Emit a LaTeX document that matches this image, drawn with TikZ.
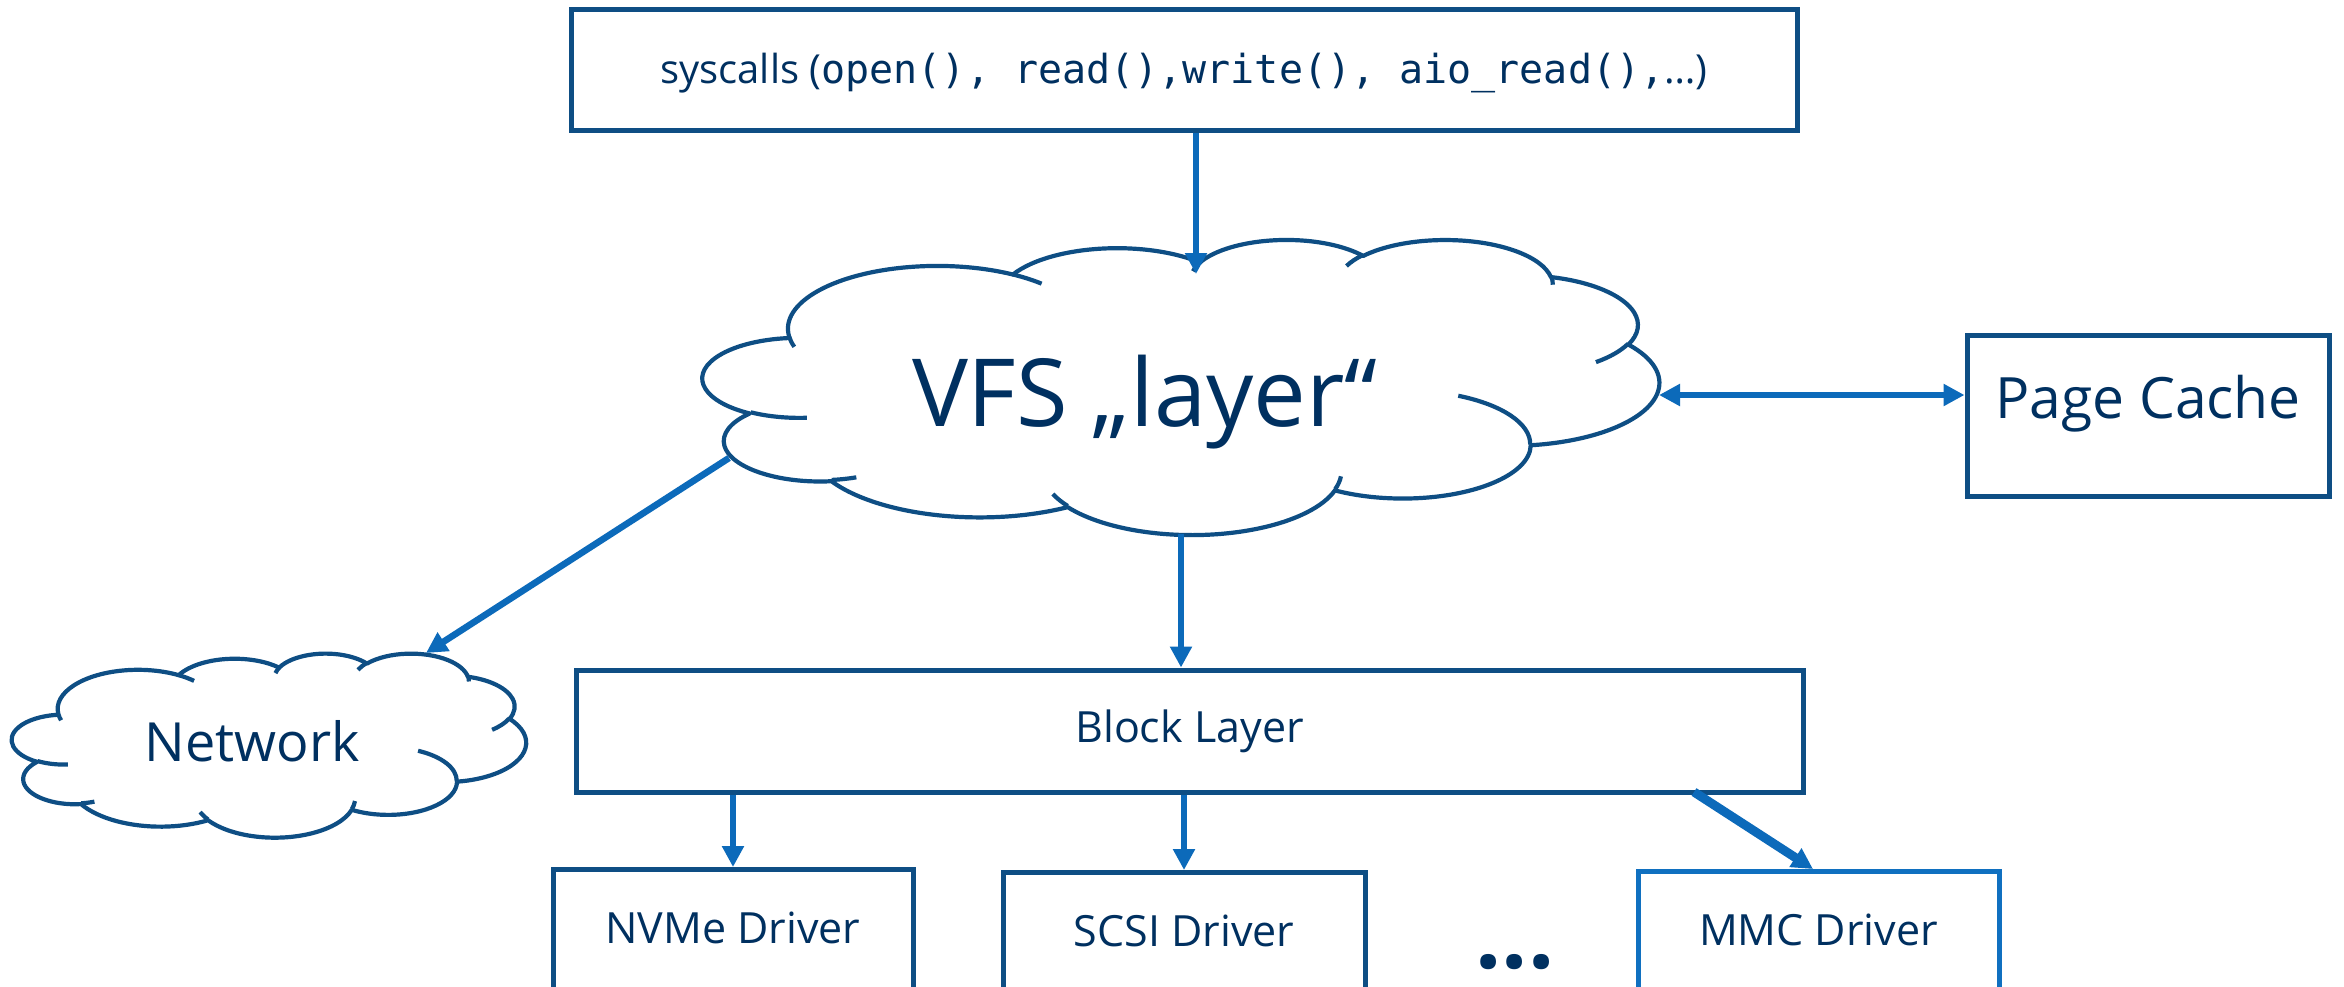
\documentclass[tikz,border=0pt]{standalone}
\usepackage{fontspec}
\setmainfont{Open Sans}
\newfontfamily\codefont{DejaVu Sans Mono}
\usetikzlibrary{arrows.meta}
\definecolor{txt}{RGB}{0,48,96}
\definecolor{bord}{RGB}{14,78,132}
\definecolor{arr}{RGB}{12,106,186}
\definecolor{mmcb}{RGB}{16,112,192}
\tikzset{
  oo/.style n args={4}{
    x radius=#1, y radius=#2,
    start angle={atan2(sin(#3)*#1,cos(#3)*#2)},
    delta angle={mod(atan2(sin(#3+#4)*#1,cos(#3+#4)*#2)-atan2(sin(#3)*#1,cos(#3)*#2)+720,360)}
  }
}
\newcommand\cloudouter{(3.900,14.370)
  arc[oo={6.753}{9.190}{-190.4875}{123.7805}]
  arc[oo={5.333}{7.267}{-144.1024}{89.9452}]
  arc[oo={4.365}{5.945}{-145.8079}{99.7230}]
  arc[oo={4.857}{6.595}{-130.9861}{117.2417}]
  arc[oo={5.333}{7.273}{-78.7089}{109.0269}]
  arc[oo={6.775}{9.220}{-46.2673}{130.2690}]
  arc[oo={5.785}{7.867}{0.6250}{114.0333}]
  arc[oo={6.752}{9.215}{22.4516}{115.1726}]
  arc[oo={7.720}{10.543}{66.2426}{75.7110}]
  arc[oo={4.360}{5.918}{-274.9421}{146.7356}]
  arc[oo={4.345}{5.945}{-246.8285}{152.5189}] -- cycle}
\newcommand\cloudinner{
  (4.693,26.177) arc[oo={4.345}{5.945}{86.7420}{26.4295}]
  (6.928,34.899) arc[oo={4.360}{5.918}{73.6105}{11.4475}]
  (16.478,39.090) arc[oo={6.752}{9.215}{137.6242}{14.0811}]
  (28.827,34.751) arc[oo={6.752}{9.215}{6.4533}{15.9984}]
  (34.129,22.954) arc[oo={5.785}{7.867}{-70.2924}{70.9174}]
  (41.798,15.354) arc[oo={5.333}{7.273}{30.3180}{27.7515}]
  (38.324,5.426) arc[oo={4.857}{6.595}{-13.7443}{14.8622}]
  (29.078,3.952) arc[oo={4.857}{6.595}{-149.1815}{18.1842}]
  (22.141,4.720) arc[oo={4.365}{5.945}{-163.4943}{17.6981}]
  (14.000,5.192) arc[oo={6.753}{9.190}{-66.7070}{12.3194}]
  (4.127,15.789) arc[oo={6.753}{9.190}{157.6544}{11.8582}]}
\newcommand\drawcloud[4]{% left top width height (px)
  \pgfmathsetmacro\cxu{#3/86.4}
  \pgfmathsetmacro\cyu{#4/86.4}
  \begin{scope}[shift={(#1,#2)}, x=\cxu pt, y=-\cyu pt]
    \filldraw[cloudline] \cloudouter;
    \draw[cloudline] \cloudinner;
  \end{scope}}
\begin{document}
\begin{tikzpicture}[x=0.5pt,y=-0.5pt,
  box/.style={draw=bord, line width=2.5pt, fill=white, inner sep=0pt, text=txt,
    font=\fontsize{21.5}{26}\selectfont},
  conn/.style={draw=arr, line width=3.3pt, -{Triangle[length=10.5pt,width=10.5pt]}},
  cloudline/.style={draw=bord, fill=white, line width=2.1pt, line join=round},
  lbl/.style={text=txt, inner sep=0pt}
]
\useasboundingbox (0,0) rectangle (2344,986);
\clip (0,0) rectangle (2344,986);
\fill[white] (0,0) rectangle (2344,986);

% top box
\node[box, minimum width=613pt, minimum height=60.5pt, text depth=2pt, font=\fontsize{20}{24}\selectfont] (sys) at (1184,70)
  {syscalls (\codefont open(), read(),write(), aio\_read(),\rmfamily …)};

% clouds
\drawcloud{703}{239}{956}{295}
\node[lbl, font=\fontsize{47}{56}\selectfont] (vfs) at (1145,402) {VFS „layer“};
\drawcloud{12}{653}{514}{184}
\node[lbl, font=\fontsize{27}{32}\selectfont] (net) at (252,741) {Network};

% page cache
\node[box, minimum width=181pt, minimum height=80.5pt, text depth=19pt, font=\fontsize{28.5}{34}\selectfont] (pc) at (2148,416) {Page Cache};

% block layer
\node[box, minimum width=613.5pt, minimum height=61pt] (blk) at (1189.5,731) {Block Layer};

% drivers
\node[box, anchor=north, minimum width=180pt, minimum height=64pt, text depth=6pt] (nvme) at (733,867) {NVMe Driver};
\node[box, anchor=north, minimum width=181pt, minimum height=64pt, text depth=6pt] (scsi) at (1184,870) {SCSI Driver};
\node[box, draw=mmcb, anchor=north, minimum width=180.5pt, minimum height=64pt, text depth=6pt] (mmc) at (1818.5,869) {MMC Driver};
\node[lbl, anchor=base, font=\fontsize{46}{50}\bfseries] (dots) at (1515,968) {...};

% connector end points
\coordinate (vfsT) at (1196,274);
\coordinate (vfsR) at (1659,395);
\coordinate (vfsL) at (729,458);
\coordinate (vfsB) at (1181,534);
\coordinate (netT) at (426,653);
\coordinate (blkM) at (1694,792);
\coordinate (mmcT) at (1813,869);

% connectors
\draw[conn] (vfsT |- sys.south) -- (vfsT);
\draw[conn, {Triangle[length=10.5pt,width=10.5pt]}-{Triangle[length=10.5pt,width=10.5pt]}] (vfsR) -- (vfsR -| pc.west);
\draw[conn] (vfsL) -- (netT);
\draw[conn] (vfsB) -- (vfsB |- blk.north);
\draw[conn] (nvme.north |- blk.south) -- (nvme.north);
\draw[conn] (scsi.north |- blk.south) -- (scsi.north);
\draw[conn, line width=4.5pt] (blkM) -- (mmcT);
\end{tikzpicture}
\end{document}
